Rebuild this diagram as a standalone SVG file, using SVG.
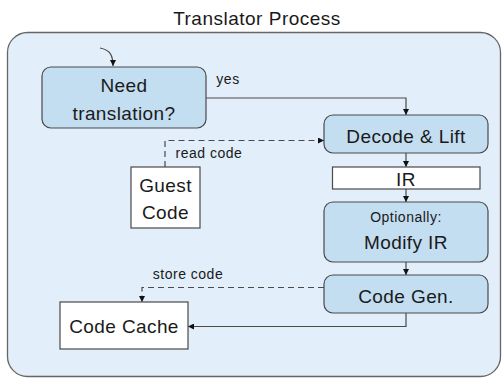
<svg xmlns="http://www.w3.org/2000/svg" width="504" height="380" viewBox="0 0 504 380">
<defs>
<style>
text{font-family:"Liberation Sans",Arial,sans-serif;fill:#1a1a1a;text-anchor:middle}
.big{font-size:19px;letter-spacing:0.4px}
.small{font-size:14px;letter-spacing:0.5px}
.blue{fill:#c3ddf1;stroke:#4a4a4a;stroke-width:1.2}
.white{fill:#ffffff;stroke:#4a4a4a;stroke-width:1.2}
.ln{fill:none;stroke:#4a4a4a;stroke-width:1.2}
.dash{stroke-dasharray:6 4}
</style>
<marker id="ah" viewBox="0 0 10 10" refX="10" refY="5" markerWidth="6" markerHeight="6" orient="auto" markerUnits="userSpaceOnUse">
<path d="M0,0 L10,5 L0,10 z" fill="#111"/>
</marker>
</defs>
<g id="container">
<rect x="7.5" y="32.5" width="493" height="344" rx="20" fill="#e2eef9" stroke="#666" stroke-width="1.3"/>
<text x="257" y="25" style="font-size:19px;letter-spacing:0.5px">Translator Process</text>
</g>
<g id="connectors">
<path class="ln" d="M100,48 C110,50 113,55 113,66" marker-end="url(#ah)"/>
<path class="ln" d="M206,98 H406 V115" marker-end="url(#ah)"/>
<text x="228" y="84" class="small" style="text-anchor:middle">yes</text>
<path class="ln dash" d="M165,167 V140.5 H324" marker-end="url(#ah)"/>
<text x="209" y="158" class="small">read code</text>
<path class="ln" d="M406,153 V167" marker-end="url(#ah)"/>
<path class="ln" d="M406,189 V202" marker-end="url(#ah)"/>
<path class="ln" d="M406,262 V275" marker-end="url(#ah)"/>
<path class="ln dash" d="M324,287.5 H142 V302" marker-end="url(#ah)"/>
<text x="188" y="279" class="small">store code</text>
<path class="ln" d="M406,313 V326.5 H188" marker-end="url(#ah)"/>
</g>
<g id="need">
<rect class="blue" x="42" y="67" width="164" height="61" rx="9"/>
<text x="124" y="92" class="big">Need</text>
<text x="124" y="120" class="big">translation?</text>
</g>
<g id="decode">
<rect class="blue" x="324" y="115" width="164" height="38" rx="9"/>
<text x="406" y="143" class="big">Decode &amp; Lift</text>
</g>
<g id="ir">
<rect class="white" x="332.5" y="167" width="147.5" height="22"/>
<text x="406" y="186" class="big">IR</text>
</g>
<g id="guest">
<rect class="white" x="131" y="167" width="69" height="61"/>
<text x="165.5" y="192" class="big">Guest</text>
<text x="165.5" y="219" class="big">Code</text>
</g>
<g id="modify">
<rect class="blue" x="324" y="202" width="164" height="60" rx="9"/>
<text x="406" y="222" class="small">Optionally:</text>
<text x="406" y="249" class="big">Modify IR</text>
</g>
<g id="codegen">
<rect class="blue" x="324" y="275" width="164" height="38" rx="9"/>
<text x="406" y="303" class="big">Code Gen.</text>
</g>
<g id="cache">
<rect class="white" x="60" y="302" width="128" height="47"/>
<text x="124" y="333" class="big">Code Cache</text>
</g>
</svg>
